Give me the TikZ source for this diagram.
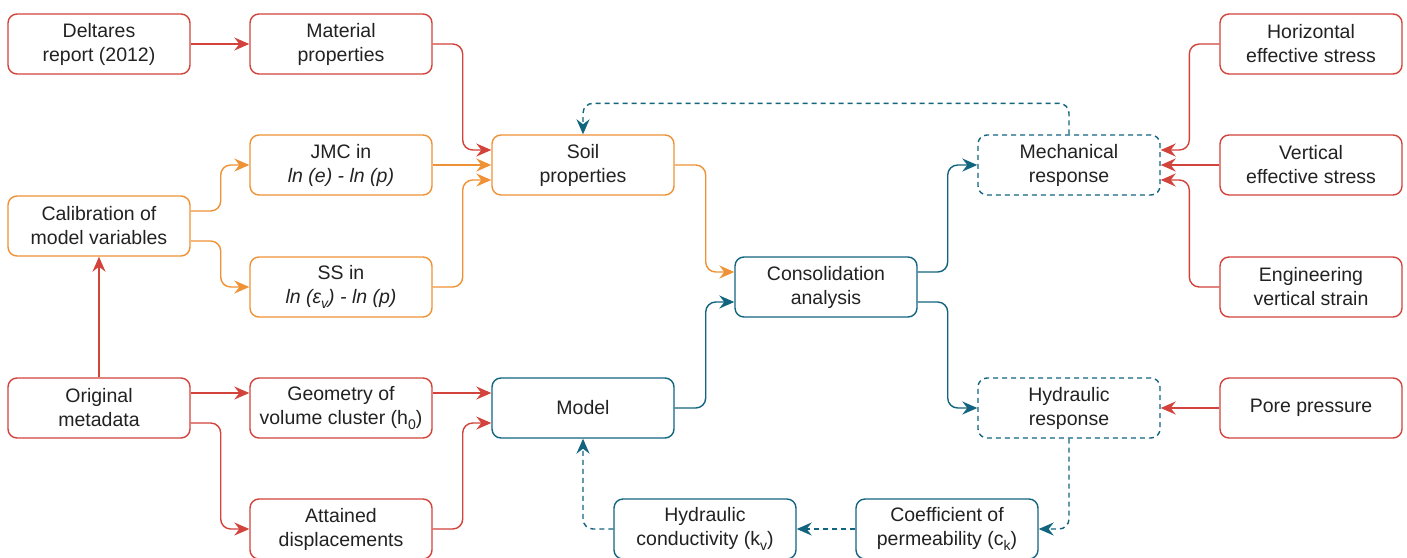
\documentclass[tikz,border=0pt]{standalone}
\usepackage{fontspec}
\setmainfont{Liberation Sans}
\usetikzlibrary{arrows.meta}
\definecolor{cred}{HTML}{D2433C}
\definecolor{corange}{HTML}{EF9236}
\definecolor{cteal}{HTML}{12657F}
\definecolor{ctext}{HTML}{222222}
\newcommand{\lowsub}[1]{\raisebox{-0.28em}{\fontsize{14}{14}\selectfont #1}}
\begin{document}
\begin{tikzpicture}[x=1pt,y=1pt,
  box/.style={draw, line width=1.4pt, rounded corners=9pt, fill=white,
    minimum width=182pt, minimum height=60pt, align=center, inner sep=2pt,
    text=ctext, font=\fontsize{19.5}{24}\selectfont},
  redbox/.style={box, draw=cred},
  orangebox/.style={box, draw=corange},
  tealbox/.style={box, draw=cteal},
  dashbox/.style={box, draw=cteal, dash pattern=on 5pt off 4pt},
  conn/.style={line width=1.4pt, rounded corners=10pt,
    -{Stealth[length=15pt,width=13pt,inset=5pt,sep=0pt]}},
  redarr/.style={conn, draw=cred},
  orangearr/.style={conn, draw=corange},
  tealarr/.style={conn, draw=cteal},
  dasharr/.style={conn, draw=cteal, dash pattern=on 5pt off 4pt}
]
\useasboundingbox (0,0) rectangle (1407,-557);
\fill[white] (0,0) rectangle (1407,-557);

% left column
\node[redbox] (deltares) at (99,-44) {Deltares\\report (2012)};
\node[orangebox] (calib) at (99,-226) {Calibration of\\model variables};
\node[redbox] (orig) at (99,-408) {Original\\metadata};

% second column
\node[redbox] (mat) at (341,-44) {Material\\properties};
\node[orangebox] (jmc) at (341,-165) {JMC in\\\textit{ln (e) - ln (p)}};
\node[orangebox] (ss) at (341,-287) {SS in\\\textit{ln (ε\lowsub{v}) - ln (p)}};
\node[redbox] (geom) at (341,-408) {Geometry of\\volume cluster (h\lowsub{0})};
\node[redbox] (att) at (341,-529) {Attained\\displacements};

% centre
\node[orangebox] (soil) at (583,-165) {Soil\\properties};
\node[tealbox] (model) at (583,-408) {Model};
\node[tealbox] (cons) at (826,-287) {Consolidation\\analysis};
\node[tealbox] (cond) at (705,-529) {Hydraulic\\conductivity (k\lowsub{v})};
\node[tealbox] (coef) at (947,-529) {Coefficient of\\permeability (c\lowsub{k})};

% responses
\node[dashbox] (mech) at (1069,-165) {Mechanical\\response};
\node[dashbox] (hyd) at (1069,-408) {Hydraulic\\response};

% measured quantities
\node[redbox] (horiz) at (1311,-44) {Horizontal\\effective stress};
\node[redbox] (vert) at (1311,-165) {Vertical\\effective stress};
\node[redbox] (eng) at (1311,-287) {Engineering\\vertical strain};
\node[redbox] (pore) at (1311,-408) {Pore pressure};

% input chain
\draw[redarr] (deltares.east) -- (mat.west);
\draw[redarr] (mat.east) -- ++(30,0) |- ([yshift=15pt]soil.west);
\draw[orangearr] (jmc.east) -- (soil.west);
\draw[orangearr] (ss.east) -- ++(30,0) |- ([yshift=-15pt]soil.west);
\draw[orangearr] ([yshift=15pt]calib.east) -- ++(30,0) |- (jmc.west);
\draw[orangearr] ([yshift=-15pt]calib.east) -- ++(30,0) |- (ss.west);
\draw[redarr] (orig.north) -- (calib.south);
\draw[redarr] ([yshift=15pt]orig.east) -- ([yshift=15pt]geom.west);
\draw[redarr] ([yshift=-15pt]orig.east) -- ++(30,0) |- (att.west);
\draw[redarr] ([yshift=15pt]geom.east) -- ([yshift=15pt]model.west);
\draw[redarr] (att.east) -- ++(30,0) |- ([yshift=-15pt]model.west);

% analysis
\draw[orangearr] (soil.east) -- ++(31,0) |- ([yshift=15pt]cons.west);
\draw[tealarr] (model.east) -- ++(31,0) |- ([yshift=-15pt]cons.west);
\draw[tealarr] ([yshift=15pt]cons.east) -- ++(30,0) |- (mech.west);
\draw[tealarr] ([yshift=-15pt]cons.east) -- ++(30,0) |- (hyd.west);

% measurements
\draw[redarr] (horiz.west) -- ++(-30,0) |- ([yshift=15pt]mech.east);
\draw[redarr] (vert.west) -- (mech.east);
\draw[redarr] (eng.west) -- ++(-30,0) |- ([yshift=-15pt]mech.east);
\draw[redarr] (pore.west) -- (hyd.east);

% feedback loops
\draw[dasharr] (mech.north) -- ++(0,31) -| (soil.north);
\draw[dasharr] (hyd.south) |- (coef.east);
\draw[dasharr] (coef.west) -- (cond.east);
\draw[dasharr] (cond.west) -| (model.south);
\end{tikzpicture}
\end{document}
